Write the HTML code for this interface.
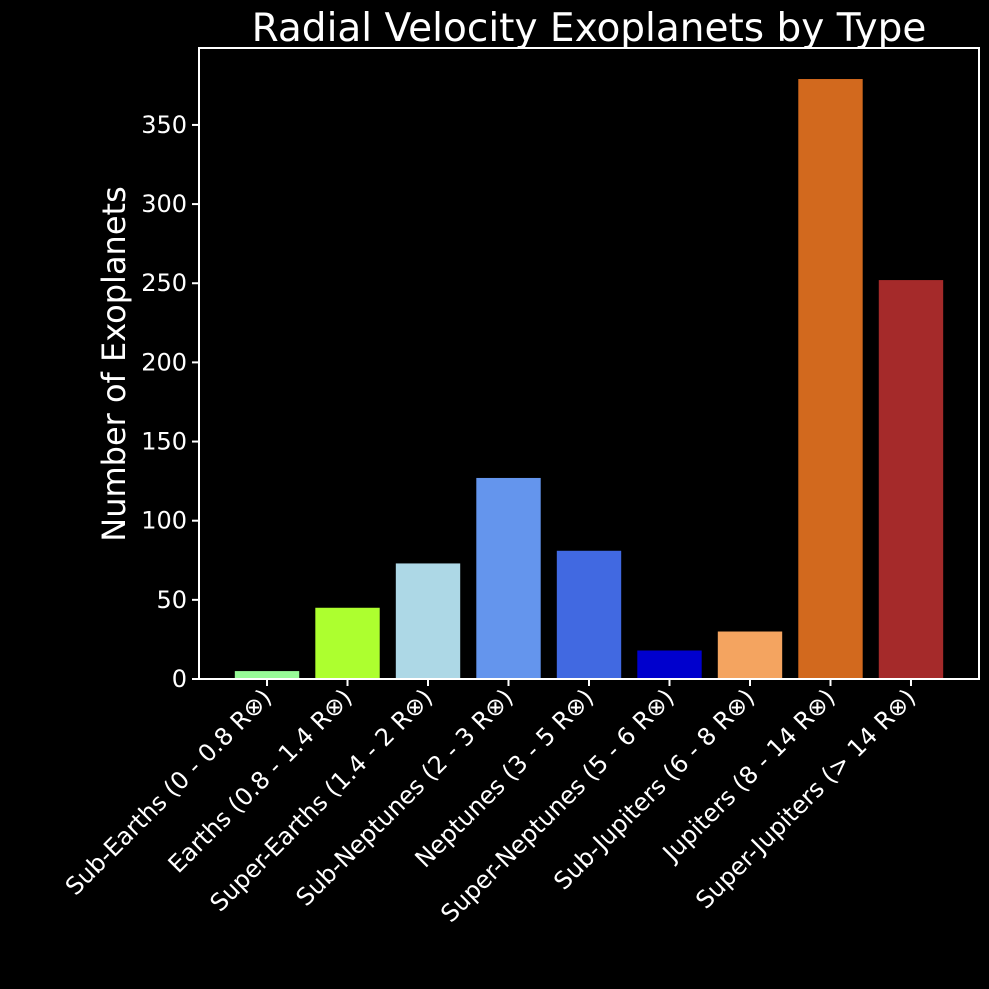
<!DOCTYPE html>
<html><head><meta charset="utf-8"><style>
body{margin:0;background:#000;}
svg{display:block;font-family:"DejaVu Sans","Liberation Sans",sans-serif;}
</style></head><body>
<svg id="chart" width="989" height="989" viewBox="0 0 989 989">
<rect width="989" height="989" fill="#000"/>
<text x="589" y="41" fill="#fff" font-size="39" text-anchor="middle">Radial Velocity Exoplanets by Type</text>
<text transform="translate(125,364) rotate(-90)" fill="#fff" font-size="32" text-anchor="middle">Number of Exoplanets</text>
<g id="bars"></g><g id="yticks"></g><g id="xticks"></g>
<rect x="199" y="48" width="780" height="631" fill="none" stroke="#fff" stroke-width="2"/>
</svg>
<script>
const categories=["Sub-Earths (0 - 0.8 R⊗)","Earths (0.8 - 1.4 R⊗)","Super-Earths (1.4 - 2 R⊗)","Sub-Neptunes (2 - 3 R⊗)","Neptunes (3 - 5 R⊗)","Super-Neptunes (5 - 6 R⊗)","Sub-Jupiters (6 - 8 R⊗)","Jupiters (8 - 14 R⊗)","Super-Jupiters (> 14 R⊗)"];
const counts=[5,45,73,127,81,18,30,379,252];
const colors=["#98fb98","#adff2f","#add8e6","#6495ed","#4169e1","#0000cd","#f4a460","#d2691e","#a52a2a"];
const yTicks=[0,50,100,150,200,250,300,350];
const NS="http://www.w3.org/2000/svg";
const L=199,R=979,T=48,B=679;
const xMin=-0.845,xMax=8.845,yMax=398.6;
function xs(i){return L+(i-xMin)/(xMax-xMin)*(R-L);}
function ys(v){return B-v/yMax*(B-T);}
const bw=0.8*(R-L)/(xMax-xMin);
function mk(tag,attrs,parent){const e=document.createElementNS(NS,tag);for(const k in attrs)e.setAttribute(k,attrs[k]);parent.appendChild(e);return e;}
const gb=document.getElementById('bars'),gy=document.getElementById('yticks'),gx=document.getElementById('xticks');
counts.forEach((v,i)=>{
  const r=mk('rect',{x:xs(i)-bw/2,y:ys(v),width:bw,height:B-ys(v),fill:colors[i]},gb);
  
  
  const t=mk('line',{x1:xs(i),x2:xs(i),y1:B,y2:B+7,stroke:'#fff','stroke-width':2},gx);
  
  
  const lx=xs(i)+6,ly=B+20;
  const lb=mk('text',{x:lx,y:ly,fill:'#fff','font-size':24,'text-anchor':'end',transform:`rotate(-45 ${lx} ${ly})`},gx);
  lb.textContent=categories[i];
  
  
});
yTicks.forEach(v=>{
  const t=mk('line',{x1:L-7,x2:L,y1:ys(v),y2:ys(v),stroke:'#fff','stroke-width':2},gy);
  
  
  const lb=mk('text',{x:L-12,y:ys(v)+8,fill:'#fff','font-size':24,'text-anchor':'end'},gy);
  lb.textContent=v;
  
  
});
</script>
</body></html>
